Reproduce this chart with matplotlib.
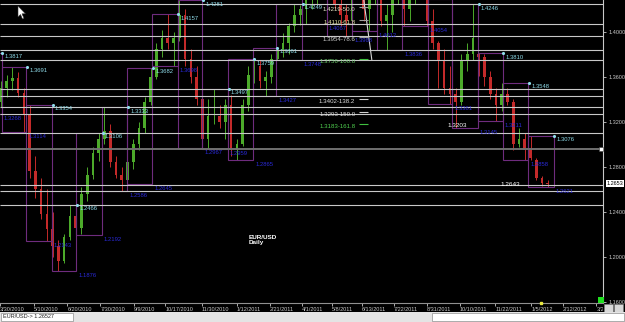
import numpy as np
import pandas as pd
import matplotlib
matplotlib.use('Agg')
import matplotlib.pyplot as plt
import matplotlib.dates as mdates
from matplotlib.ticker import FormatStrFormatter
from matplotlib.patches import Rectangle, Polygon
from matplotlib.transforms import Bbox

plt.rcParams['font.family'] = ['Liberation Sans', 'DejaVu Sans']

# Velas semanales EUR/USD (fecha = miercoles de cada semana)
semanas = pd.date_range('2010-03-31', periods=96, freq='7D')
apertura = [1.3380, 1.3500, 1.3560, 1.3590, 1.3460, 1.3260, 1.2760, 1.2600, 1.2380, 1.2250,
            1.2100, 1.1960, 1.2180, 1.2360, 1.2260, 1.2560, 1.2730, 1.2920, 1.3050, 1.3120,
            1.2840, 1.2730, 1.2680, 1.2840, 1.3000, 1.3150, 1.3380, 1.3600, 1.3850, 1.3950,
            1.3900, 1.3950, 1.4150, 1.3760, 1.3600, 1.3400, 1.3050, 1.3250, 1.3250, 1.3200,
            1.3350, 1.2950, 1.3000, 1.3350, 1.3620, 1.3700, 1.3560, 1.3600, 1.3760, 1.3830,
            1.3900, 1.4050, 1.4150, 1.4200, 1.4300, 1.4450, 1.4600, 1.4820, 1.4550, 1.4250,
            1.4150, 1.4100, 1.4400, 1.4550, 1.4200, 1.4300, 1.4450, 1.4100, 1.4150, 1.4350,
            1.4400, 1.4200, 1.4300, 1.4400, 1.4450, 1.4100, 1.3900, 1.3750, 1.3500, 1.3450,
            1.3380, 1.3750, 1.3800, 1.3800, 1.3780, 1.3600, 1.3450, 1.3350, 1.3450, 1.3380,
            1.3000, 1.3050, 1.2950, 1.2860, 1.2700, 1.2660]
maximo = [1.3560, 1.3620, 1.3691, 1.3640, 1.3500, 1.3354, 1.2900, 1.2700, 1.2600, 1.2400,
          1.2150, 1.2200, 1.2466, 1.2420, 1.2620, 1.2800, 1.2980, 1.3106, 1.3333, 1.3180,
          1.2900, 1.2800, 1.2880, 1.3050, 1.3200, 1.3420, 1.3682, 1.3900, 1.4020, 1.4157,
          1.4000, 1.4281, 1.4200, 1.3850, 1.3700, 1.3450, 1.3400, 1.3497, 1.3350, 1.3400,
          1.3440, 1.3050, 1.3400, 1.3700, 1.3759, 1.3750, 1.3650, 1.3800, 1.3861, 1.3990,
          1.4080, 1.4249, 1.4240, 1.4350, 1.4500, 1.4650, 1.4880, 1.4940, 1.4600, 1.4350,
          1.4250, 1.4450, 1.4698, 1.4600, 1.4450, 1.4578, 1.4470, 1.4250, 1.4400, 1.4500,
          1.4450, 1.4450, 1.4548, 1.4500, 1.4500, 1.4200, 1.3920, 1.3850, 1.3700, 1.3500,
          1.3800, 1.3900, 1.4246, 1.3810, 1.3800, 1.3650, 1.3500, 1.3548, 1.3500, 1.3400,
          1.3150, 1.3100, 1.3076, 1.2880, 1.2720, 1.2680]
minimo = [1.3330, 1.3420, 1.3480, 1.3420, 1.3114, 1.2700, 1.2520, 1.2340, 1.2143, 1.2000,
          1.1876, 1.1950, 1.2150, 1.2192, 1.2200, 1.2500, 1.2690, 1.2850, 1.3000, 1.2800,
          1.2700, 1.2586, 1.2645, 1.2780, 1.2950, 1.3100, 1.3350, 1.3580, 1.3780, 1.3850,
          1.3698, 1.3920, 1.3700, 1.3550, 1.3350, 1.2967, 1.2959, 1.3180, 1.3150, 1.3050,
          1.2900, 1.2862, 1.2990, 1.3300, 1.3550, 1.3500, 1.3427, 1.3550, 1.3748, 1.3780,
          1.3800, 1.4000, 1.4060, 1.4067, 1.4200, 1.4250, 1.4550, 1.4500, 1.4200, 1.4050,
          1.3968, 1.4080, 1.4350, 1.4100, 1.4012, 1.4250, 1.4050, 1.3836, 1.4000, 1.4250,
          1.4054, 1.4100, 1.4250, 1.4300, 1.4050, 1.3850, 1.3500, 1.3450, 1.3361, 1.3145,
          1.3350, 1.3650, 1.3750, 1.3610, 1.3520, 1.3400, 1.3211, 1.3300, 1.3350, 1.2950,
          1.2980, 1.2858, 1.2860, 1.2680, 1.2630, 1.2621]
cierre = [1.3500, 1.3560, 1.3590, 1.3460, 1.3260, 1.2760, 1.2600, 1.2380, 1.2250, 1.2100,
          1.1960, 1.2180, 1.2360, 1.2260, 1.2560, 1.2730, 1.2920, 1.3050, 1.3120, 1.2840,
          1.2730, 1.2680, 1.2840, 1.3000, 1.3150, 1.3380, 1.3600, 1.3850, 1.3950, 1.3900,
          1.3950, 1.4150, 1.3760, 1.3600, 1.3400, 1.3050, 1.3250, 1.3250, 1.3200, 1.3350,
          1.2950, 1.3000, 1.3350, 1.3620, 1.3700, 1.3560, 1.3600, 1.3760, 1.3830, 1.3900,
          1.4050, 1.4150, 1.4200, 1.4300, 1.4450, 1.4600, 1.4820, 1.4550, 1.4250, 1.4150,
          1.4100, 1.4400, 1.4550, 1.4200, 1.4300, 1.4450, 1.4100, 1.4150, 1.4350, 1.4400,
          1.4200, 1.4300, 1.4400, 1.4450, 1.4100, 1.3900, 1.3750, 1.3500, 1.3450, 1.3380,
          1.3750, 1.3800, 1.3950, 1.3780, 1.3600, 1.3450, 1.3350, 1.3450, 1.3380, 1.3000,
          1.3050, 1.2950, 1.2880, 1.2700, 1.2660, 1.2653]

# Rangos mensuales (cajas moradas)
meses = pd.date_range('2010-03-01', periods=23, freq='MS')
mes_max = [1.3817, 1.3691, 1.3354, 1.2466, 1.3106, 1.3333, 1.3682, 1.4157, 1.4281, 1.3497,
           1.3759, 1.3861, 1.4249, 1.4880, 1.4940, 1.4698, 1.4578, 1.4548, 1.4290, 1.4246,
           1.3810, 1.3548, 1.3076]
mes_min = [1.3268, 1.3114, 1.2143, 1.1876, 1.2192, 1.2586, 1.2645, 1.3698, 1.2967, 1.2959,
           1.2865, 1.3427, 1.3748, 1.4067, 1.3968, 1.4012, 1.3836, 1.4054, 1.3361, 1.3145,
           1.3211, 1.2858, 1.2621]

# Lineas horizontales
niveles = [1.4249, 1.4067, 1.3968, 1.3836, 1.3748, 1.3497, 1.3427, 1.3333, 1.3268, 1.3106,
           1.2643, 1.2586, 1.2466]
nivel_gris = 1.2963

# Fibonacci
fibo_precio = [1.4219, 1.4110, 1.3954, 1.3756, 1.3402, 1.3293, 1.3183]
fibo_pct = ['50.0', '61.8', '78.6', '100.0', '138.2', '150.0', '161.8']
fibo_txt_color = ['#e6e6c8', '#e6e6a8', '#d0d0d0', '#70d070', '#e0e0e0', '#e0e0e0', '#50d050']
fibo_seg_color = ['#a0a0a0', '#a0a0a0', '#a0a0a0', '#40c040', '#d0d0d0', '#d0d0d0', '#40c040']
fibo_fechas = ['2011-06-08', '2011-06-25']
fibo_extremos = [1.4682, 1.3756]

# Eje de tiempo y precios
fechas_eje = ['2010-03-30', '2010-05-10', '2010-06-20', '2010-07-30', '2010-09-09', '2010-10-17',
              '2010-11-30', '2011-01-12', '2011-02-21', '2011-04-01', '2011-05-08', '2011-06-13',
              '2011-07-22', '2011-08-31', '2011-10-10', '2011-11-22', '2012-01-05', '2012-02-12',
              '2012-03-24']
etiquetas_eje = ['3/30/2010', '5/10/2010', '6/20/2010', '7/30/2010', '9/9/2010', '10/17/2010',
                 '11/30/2010', '1/12/2011', '2/21/2011', '4/1/2011', '5/8/2011', '6/13/2011',
                 '7/22/2011', '8/31/2011', '10/10/2011', '11/22/2011', '1/5/2012', '2/12/2012',
                 '3/24/2012']
precios_eje = [1.16, 1.20, 1.24, 1.28, 1.32, 1.36, 1.40]
ultimo_precio = 1.2653

verde, rojo = '#4caa2a', '#c42a2a'
morado, cian, azul = '#6e2c7e', '#8fdcea', '#2a2ad8'
y_min, y_max = 1.1591, 1.4284

fig = plt.figure(figsize=(6.25, 3.22), dpi=100, facecolor='black')
ax = fig.add_axes([0, 19 / 322, 603 / 625, 303 / 322])
ax.set_facecolor('black')

# Velas
x = mdates.date2num(semanas)
o, h, l, c = map(np.array, (apertura, maximo, minimo, cierre))
col = np.where(c >= o, verde, rojo)
ax.vlines(x, l, h, colors=col, lw=0.7, zorder=2)
ax.bar(x, np.maximum(np.abs(c - o), 0.0006), bottom=np.minimum(o, c), width=3.2,
       color=col, zorder=2)

# Cajas mensuales con etiquetas
for i in range(len(meses)):
    ini = mdates.date2num(meses[i])
    fin = mdates.date2num(meses[i] + pd.offsets.MonthBegin(1))
    ax.add_patch(Rectangle((ini, mes_min[i]), fin - ini, mes_max[i] - mes_min[i],
                           fill=False, ec=morado, lw=0.8, zorder=2.5))
    if mes_max[i] < y_max:
        ax.plot(fin + 1, mes_max[i], marker='.', ms=2.5, color=cian, clip_on=False, zorder=4)
        ax.annotate(f'{mes_max[i]:.4f}', (fin, mes_max[i]), xytext=(3, -1.5),
                    textcoords='offset pixels', va='top', ha='left', fontsize=4.2,
                    color=cian, annotation_clip=False, zorder=4)
    ax.annotate(f'{mes_min[i]:.4f}', (fin, mes_min[i]), xytext=(2, -2),
                textcoords='offset pixels', va='top', ha='left', fontsize=4.2,
                color=azul, annotation_clip=False, zorder=4)

# Lineas horizontales
ax.hlines(niveles, 0, 1, transform=ax.get_yaxis_transform(), colors='#c8c8c8', lw=0.8, zorder=3)
ax.axhline(nivel_gris, color='#707070', lw=1.4, zorder=3)

# Fibonacci
ax.plot(pd.to_datetime(fibo_fechas), fibo_extremos, color='#d8d8d8', lw=0.8, zorder=3)
for p, pct, tc, sc in zip(fibo_precio, fibo_pct, fibo_txt_color, fibo_seg_color):
    ax.text(pd.Timestamp('2011-06-05'), p, f'{p:.4f}-{pct}', ha='right', va='top',
            fontsize=4.4, color=tc, zorder=4)
    ax.hlines(p, pd.Timestamp('2011-06-09'), pd.Timestamp('2011-06-21'), colors=sc, lw=0.8, zorder=4)

ax.text(pd.Timestamp('2011-09-25'), 1.3173, '1.3203', color='white', fontsize=4.6,
        va='center', ha='left', zorder=4)
ax.text(pd.Timestamp('2011-11-28'), 1.2640, '1.2643', color='white', fontsize=4.6,
        va='center', ha='left', zorder=4)
ax.text(0.413, 0.225, 'EUR/USD\nDaily', transform=ax.transAxes, color='white', fontsize=4.6,
        fontweight='bold', va='top', ha='left', linespacing=1.05)

# Ejes
base = mdates.date2num(pd.Timestamp('2010-05-10'))
ax.set_xlim(base - 32 / 0.825, base + 571 / 0.825)
ax.set_ylim(y_min, y_max)
ax.set_xticks(mdates.date2num(pd.to_datetime(fechas_eje)))
ax.set_xticklabels(etiquetas_eje, ha='left')
ax.tick_params(axis='x', colors='#c8c8c8', labelsize=4, length=2, width=0.6, pad=1.2)
ax.yaxis.tick_right()
ax.set_yticks(precios_eje)
ax.yaxis.set_major_formatter(FormatStrFormatter('%.4f'))
ax.tick_params(axis='y', colors='#c8c8c8', labelsize=4, length=2, width=0.6, pad=2)
for s in ('top', 'left'):
    ax.spines[s].set_visible(False)
ax.spines['right'].set_color('#c8c8c8')
ax.spines['right'].set_linewidth(0.8)
ax.spines['bottom'].set_color('#909090')
ax.spines['bottom'].set_linewidth(0.8)

# la ultima fecha queda cortada por los botones de la esquina
ultima = ax.get_xticklabels()[-1]
ultima.set_clip_on(True)
ultima.set_clip_box(Bbox([[0, 0], [603, 322]]))

ax.text(1.006, ultimo_precio, f'{ultimo_precio:.4f}', transform=ax.get_yaxis_transform(),
        fontsize=4, color='black', va='center', ha='left', clip_on=False, zorder=6,
        bbox=dict(boxstyle='square,pad=0.2', fc='white', ec='none'))
ax.plot(0.996, nivel_gris, marker='s', ms=3.5, mfc='white', mec='#404040', mew=0.4,
        transform=ax.get_yaxis_transform(), clip_on=False, zorder=6)
ax.plot(pd.Timestamp('2012-01-17'), y_min, marker='s', ms=2, color='#e8e840',
        clip_on=False, zorder=6)

# Marcadores de la ventana (pixeles)
W, H = 625, 322
def px(xp, yp):
    return (xp / W, 1 - yp / H)

fig.add_artist(Rectangle(px(598, 303), 6 / W, 6 / H, transform=fig.transFigure,
                         fc='#20e020', ec='none', zorder=6))
fig.add_artist(Rectangle(px(604, 312), 9 / W, 8 / H, transform=fig.transFigure,
                         fc='#d8d8d8', ec='#808080', lw=0.4, zorder=6))
fig.add_artist(Rectangle(px(614, 312), 9 / W, 8 / H, transform=fig.transFigure,
                         fc='#d8d8d8', ec='#808080', lw=0.4, zorder=6))
fig.add_artist(Rectangle((0, 0), 1, 10 / H, transform=fig.transFigure,
                         fc='#e4e4e4', ec='none', zorder=6))
fig.add_artist(Rectangle(px(1, 321), 72 / W, 8 / H, transform=fig.transFigure,
                         fc='white', ec='#909090', lw=0.5, zorder=7))
fig.add_artist(Rectangle(px(432, 321), 192 / W, 8 / H, transform=fig.transFigure,
                         fc='white', ec='#909090', lw=0.5, zorder=7))
fig.text(3 / W, 1 - 317 / H, 'EUR/USD-> 1.26527', fontsize=4, color='#202020',
         va='center', zorder=8)
cursor = [px(18, 6), px(18, 17), px(20.5, 14.5), px(22.5, 19), px(24, 18.3),
          px(22, 13.8), px(25.5, 13.8)]
fig.add_artist(Polygon(cursor, closed=True, transform=fig.transFigure, fc='white',
                       ec='#303030', lw=0.4, zorder=8))

fig.savefig('out.png', dpi=100, facecolor='black')
